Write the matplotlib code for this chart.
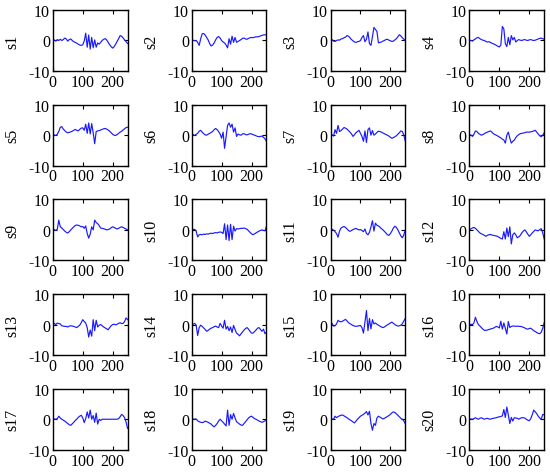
import numpy as np
import matplotlib
matplotlib.use("Agg")
import matplotlib.pyplot as plt

plt.rcParams["font.family"] = ["Liberation Serif", "DejaVu Serif"]
plt.rcParams["font.size"] = 11.5
plt.rcParams["axes.unicode_minus"] = False

# sample index of every stored value (one value every 5 samples)
samples = np.arange(0, 251, 5)

s1 = [0, 0.2, -0.2, 0.3, 0, 0.4, 0, 0.3, 0.8, 0.5, -0.2, 0.3, 0.5, 0, -0.4, -0.6, -0.9, -1.2, -1.5, -1.6,
      -1.4, -0.2, 2.4, -2.2, 1.8, -2.8, 1.0, -2.4, 0.2, -2.2, -0.8, -1.2, -0.6, 0, 0.4, 0.6, 0.2, -0.6, -1.4, -2.0,
      -2.5, -2.0, -1.2, -0.3, 0.6, 1.6, 1.4, 0.8, 0.2, -0.4, -1.0]
s2 = [0, 0.1, -0.1, 0, -0.6, -1.6, 0.5, 2.2, 2.3, 1.8, 1.0, 0.2, -1.0, -1.8, -1.5, -0.8, 0.2, 1.0, 1.3, 0.8,
      0, -0.5, -0.8, -1.5, -2.4, 0.6, -1.2, 1.4, -0.6, 1.0, -0.6, -0.3, 0, 0.3, 0.7, 0.8, 0.5, 0.4, 0.7, 0.9,
      1.0, 0.9, 1.1, 1.2, 1.2, 1.3, 1.5, 1.7, 1.8, 1.9, 1.8]
s3 = [0, 0.3, -0.2, -0.3, 0, 0.2, 0.1, 0.5, 0.6, 0.9, 1.1, 1.6, 1.4, 0.9, 0.3, -0.1, -0.5, -0.6, -0.4, -0.3,
      0, 1.0, 1.6, -0.4, 0.4, 2.8, -1.0, -1.6, 1.2, 4.3, 3.6, 3.0, -0.8, -0.6, -0.5, -0.2, 0, 0.3, 0.4, 0.1,
      -0.1, -0.3, -0.2, 0.2, 0.6, 1.2, 1.9, 1.5, 0.9, 0.4, 0]
s4 = [0, 0, -0.2, 0.2, 0.5, 0.9, 1.0, 0.6, 0.3, 0.1, 0, -0.3, -0.5, -0.4, -0.6, -0.9, -1.1, -1.3, -1.6, -1.9,
      -2.1, -1.5, 4.6, 3.8, -1.0, -2.0, 1.0, -1.4, 1.6, 0.2, 1.0, -0.5, 0, 0.3, 0.1, 0, 0.2, 0.3, 0.1, 0,
      0.2, 0.3, 0.1, 0, 0.1, 0.3, 0.5, 0.7, 0.8, 0.6, 0.4]
s5 = [0, 0.1, -0.1, 0.3, 1.2, 2.6, 2.8, 2.0, 1.5, 1.0, 0.8, 0.9, 1.1, 1.3, 1.6, 1.9, 1.6, 1.4, 1.9, 2.3,
      2.4, 1.6, 3.6, 0.6, 4.0, 0.4, 3.8, 0.8, -2.8, 1.2, 1.4, 1.5, 1.7, 1.9, 2.1, 2.2, 2.0, 1.7, 1.3, 0.8,
      0.3, 0, -0.1, 0.2, 0.6, 1.0, 1.3, 1.7, 2.1, 2.5, 2.6]
s6 = [0, 0.2, -0.1, 0.3, 0.6, 1.3, 1.6, 1.0, 0.5, 0.1, 0, 0.3, 0.6, 0.9, 1.2, 1.8, 2.2, 1.8, 1.2, 0.4,
      -1.0, 1.0, -4.3, -0.5, 3.2, 4.0, 2.6, 3.6, 1.0, 2.4, -0.4, 0.4, 0.1, 0, 0.4, 0.5, 0.2, 0.1, 0.3, 0.5,
      0.4, 0.2, 0, -0.2, -0.4, -0.5, -0.4, -0.3, -0.7, -1.2, -2.0]
s7 = [0, 0.2, -0.3, 1.8, 0.6, 3.2, 1.2, 1.5, 2.0, 2.5, 2.3, 2.0, 1.5, 1.0, 0.4, -0.4, 0.2, 0.8, 1.2, 1.6,
      0.6, -0.4, -2.0, 1.4, -2.4, 1.8, 2.4, 0, 1.5, 0, 0.4, 0.9, 1.3, 1.2, 1.0, 0.7, 0.5, 0.2, 0, -0.3,
      -0.7, -1.0, -0.8, -0.5, -0.2, 0.3, 0.8, 1.4, 1.2, 0, -2.0]
s8 = [0, 0.1, -0.4, 0.3, 1.4, 1.2, 0.6, 0.3, 0, 0.2, 0.5, 0.8, 1.0, 1.2, 1.4, 1.0, 0.5, 0.2, 0, -0.3,
      -0.6, -0.9, -1.3, -1.6, -2.6, 0, 1.0, -1.0, -2.6, -2.0, -1.6, -0.8, -0.2, 0.2, 0.5, 0.6, 0.7, 0.8, 1.0, 1.0,
      1.0, 1.1, 1.2, 1.4, 1.6, 1.0, 0.4, -0.2, -0.5, 0, 0.8]
s9 = [0, 0.1, -0.2, 0.2, 3.2, 1.0, 0.6, 0.1, -0.4, -0.8, -1.0, -0.6, 0, 0.5, 1.0, 1.4, 1.6, 1.5, 1.3, 1.0,
      1.1, 0.5, 1.3, -1.2, -2.7, -1.4, 1.0, 0, 3.2, 2.4, 2.0, 1.4, 0.6, 0.5, 0.4, 0.2, 0, 0.1, 0.3, 0.7,
      1.0, 0.8, 0.5, 0.3, 0.5, 0.8, 1.0, 0.8, 0.5, 0.3, 0]
s10 = [0, 0.1, 0.2, -0.5, -2.3, -1.6, -1.5, -1.6, -1.4, -1.5, -1.3, -1.4, -1.2, -1.1, -1.2, -1.0, -0.9, -1.0, -0.8, -0.7,
       -0.8, -1.2, 2.0, -3.2, 1.6, -3.5, 1.8, -3.2, 1.2, -0.4, 0.4, 0.3, 0.4, 0.5, 0.5, 0.6, 0.4, 0.2, -0.3, -0.8,
       -1.3, -1.6, -1.3, -1.0, -0.7, -0.4, -0.2, 0, -0.2, -0.3, 1.2]
s11 = [0, 0.2, -0.1, -0.6, -1.2, -2.4, -0.4, 0.6, 0.9, 1.1, 0.8, 0.3, -0.2, -0.5, -0.2, 0.1, 0.3, 0.5, 0.2, 0,
       0.1, -0.2, -0.6, 0.3, -1.2, -1.6, -0.8, 1.0, 3.0, -0.4, 2.2, 1.5, 1.3, 0.9, 0.4, 0, -0.5, -1.0, -1.6, -1.8,
       -1.2, -0.4, 0.6, 1.2, 0.8, 0, -1.0, -2.0, -2.6, -1.6, 0]
s12 = [0, 0.3, 0.6, 0.8, 0.5, 0, -0.5, -1.0, -1.3, -1.5, -1.8, -2.1, -1.8, -1.6, -1.5, -1.7, -1.8, -1.9, -2.0, -2.2,
       -2.5, -2.8, -3.0, -0.6, -3.0, 0.6, -2.2, 1.0, -4.6, -1.6, -1.0, -1.6, -2.6, -2.3, -1.8, -1.0, -0.4, 0, -0.6, -1.4,
       -2.1, -1.6, -1.0, -0.5, 0, -0.2, -0.3, 0.1, 0.4, -1.0, -3.0]
s13 = [0, 0.4, 0, 0.5, 0.3, 0.2, -0.4, -0.5, -0.6, -0.6, -0.8, -0.5, -0.4, -0.5, -0.6, -0.8, -1.0, -0.6, -0.2, 0.6,
       1.6, 1.0, 0.5, -1.0, -4.1, -1.8, -3.8, 1.6, -2.0, 1.4, -0.8, -0.2, 0, -0.4, -0.8, -1.1, -1.4, -1.7, -1.0, -0.4,
       0, 0.1, -0.1, 0.1, 0.4, 0.6, 0.3, 0.4, 1.0, 2.2, 1.6]
s14 = [0, 0.1, 0.4, -0.2, -3.6, -1.0, -0.2, -0.6, -1.1, -1.6, -2.2, -1.9, -1.5, -1.2, -1.0, -0.7, -0.5, -0.8, -1.0, 0.4,
       -0.5, -1.2, 1.4, -1.5, -0.6, -2.0, -0.8, -2.6, -0.3, -1.6, -2.8, -3.2, -3.7, -3.0, -2.4, -1.8, -1.3, -1.0, -1.5, -2.2,
       -2.8, -2.8, -2.3, -1.8, -1.2, -1.0, -1.6, -2.2, -1.5, -3.0, -2.5]
s15 = [0, 0.4, -0.5, -0.4, 0.2, 1.4, 1.0, 0.9, 1.1, 1.4, 1.7, 1.2, 0.6, 0.3, 0, -0.3, -0.5, -0.6, -0.5, -0.4,
       -0.3, -1.0, -2.8, 0.8, 4.6, -2.0, 2.0, -1.4, 1.6, 0.2, 0.5, 0.1, -0.2, -0.5, -0.8, -1.0, -0.8, -0.4, -0.1, 0.2,
       0.5, 0.8, 0.4, 0, -0.3, -0.5, -0.4, -0.2, 0.3, 1.2, 2.0]
s16 = [0, 0.1, 0, 0.5, 2.4, 1.0, 0, -0.5, -1.0, -1.5, -1.9, -1.9, -1.8, -1.6, -1.5, -1.3, -1.2, -0.9, -0.6, -0.8,
       -1.1, 1.1, -1.5, 0.5, -1.2, -3.1, 1.0, -1.0, -0.6, -0.5, -0.5, -0.6, -0.5, -0.6, -0.6, -0.7, -0.9, -1.1, -1.4, -1.5,
       -1.3, -1.2, -1.6, -2.0, -2.3, -2.6, -2.9, -3.0, -2.5, -1.2, 0.6]
s17 = [0, 0.1, 0, 0.2, 1.0, 0.4, 0, -0.3, -0.6, -1.0, -1.4, -1.8, -2.0, -1.5, -1.0, -0.4, 0, 0.6, 1.0, 1.3,
       0.5, -1.1, 0.2, 2.4, 0.4, 3.0, 0, 1.2, -1.0, 2.0, -1.6, 0, -0.4, 0, 0, 0, 0, 0, 0, 0,
       0, 0, 0, 0, 0.2, 0.8, 1.6, 1.2, 0.5, -1.0, -3.0]
s18 = [0, 0.1, 0, 0.1, -0.5, -0.8, -1.0, -1.1, -1.0, -0.6, -0.8, -1.0, -1.3, -1.6, -2.1, -2.5, -2.0, -1.4, -0.6, 0,
       -0.5, -1.0, -1.6, -2.2, 3.0, -2.0, 1.5, 0, 1.9, 0.4, -0.8, -1.2, -1.6, -1.9, -2.0, -1.4, -0.8, -0.2, 0.4, 0.8,
       1.0, 0.6, 0.2, 0, -0.3, -0.6, -0.8, -1.0, -0.8, -0.5, 0]
s19 = [0, 0.1, 0, 1.0, 0.5, 0.9, 1.1, 1.3, 1.4, 1.1, 0.8, 0.5, 0.1, -0.2, -0.5, -0.9, -1.2, -0.6, 0, 0.5,
       1.0, 1.3, 1.6, 2.0, 2.5, 1.4, 2.6, -1.4, -3.6, -1.4, -2.0, 0.4, 1.0, 0.7, 0.4, 0.1, 0.3, 0.6, 0.9, 1.2,
       1.6, 2.1, 2.4, 2.2, 1.8, 1.3, 0.8, 0.3, 0, -0.6, -1.5]
s20 = [0, 0.1, 0, 0.2, 0.5, 0.2, 0, 0.3, 0.5, 0.2, 0, 0.2, 0.3, 0.1, 0, 0.2, 0.3, 0.4, 0.5, 0.7,
       0.8, 0.9, 1.1, 3.2, 0.6, 4.0, 1.4, -1.4, 0.6, -0.6, 0.5, 0.4, 0.3, 0, 0.3, 0.5, 0.5, 0.4, 0, -0.3,
       -0.5, 0.2, 1.5, 3.0, 2.4, 1.8, 1.0, 0.4, 0, 1.6, 1.4]

signals = [s1, s2, s3, s4, s5, s6, s7, s8, s9, s10,
           s11, s12, s13, s14, s15, s16, s17, s18, s19, s20]
names = ["s%d" % (k + 1) for k in range(len(signals))]

fig = plt.figure(figsize=(5.5, 4.77), dpi=100)

for k, (sig, name) in enumerate(zip(signals, names)):
    row, col = divmod(k, 4)
    ax = fig.add_axes([0.096 + col * 0.2525, 0.849 - row * 0.1985, 0.136, 0.128])
    ax.plot(samples, sig, color="#1a1aff", lw=0.85)
    ax.set_xlim(0, 250)
    ax.set_ylim(-10, 10)
    ax.set_xticks([0, 100, 200])
    ax.set_yticks([-10, 0, 10])
    ax.tick_params(direction="in", length=3, width=0.8, top=True, right=True, pad=2)
    for sp in ax.spines.values():
        sp.set_linewidth(1.0)
    ax.set_ylabel(name, labelpad=6)

fig.savefig("out.png", dpi=100)
